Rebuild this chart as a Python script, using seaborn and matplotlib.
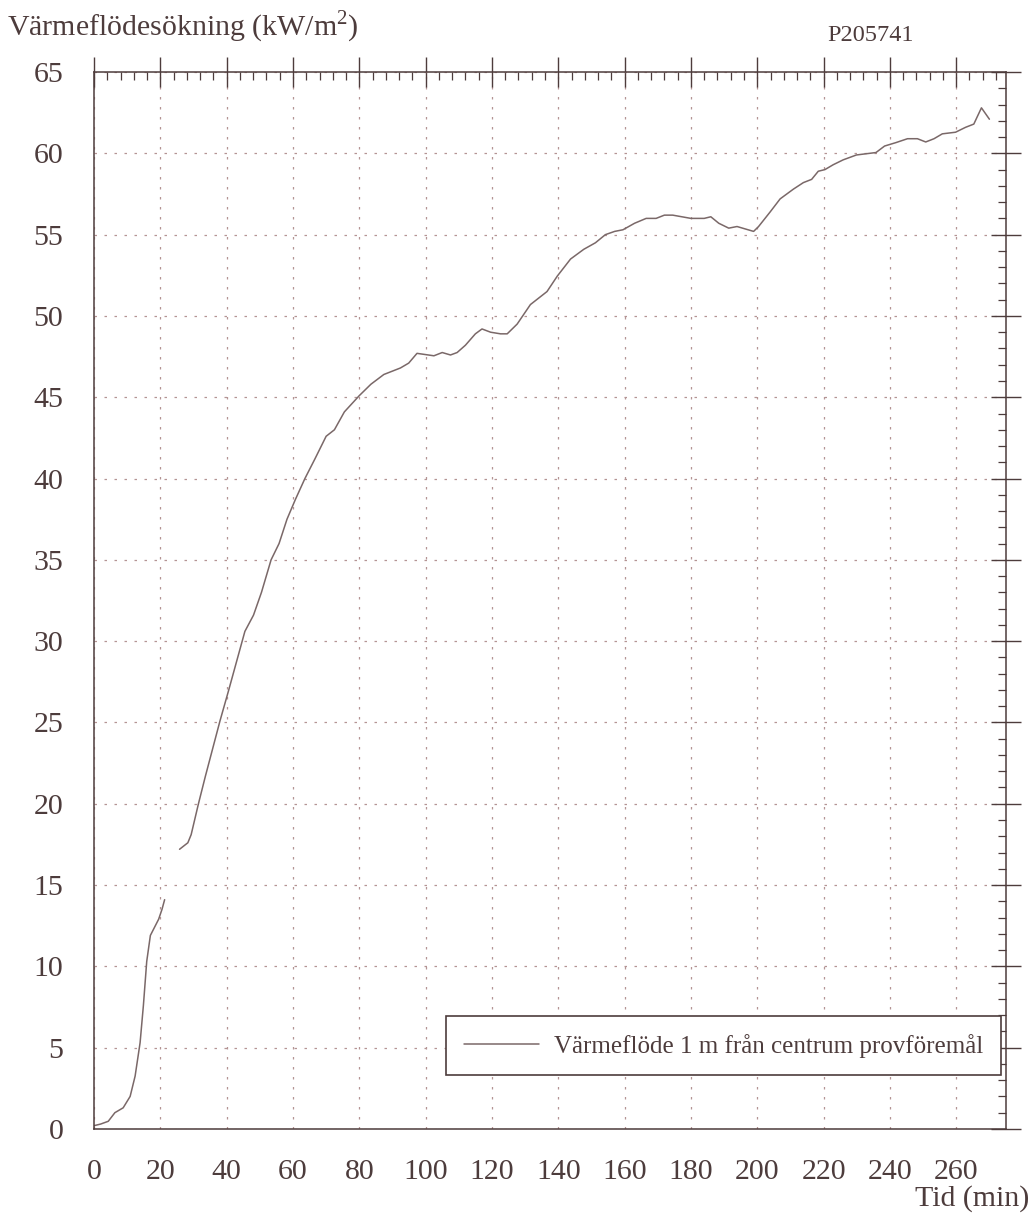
import numpy as np
import pandas as pd
import matplotlib
matplotlib.use("Agg")
import matplotlib.pyplot as plt
from matplotlib.ticker import MultipleLocator
import seaborn as sns

# ---- data ----
time_early = [0, 2, 4.3, 6.3, 8.8, 10.9, 12.4, 13.9, 14.9, 15.9, 17.0, 18.5, 19.5, 20.5, 21.3]
flux_early = [0.2, 0.3, 0.47, 1.0, 1.3, 2.0, 3.25, 5.3, 7.6, 10.3, 11.9, 12.5, 12.9, 13.5, 14.1]

time_main = [25.8, 28.3, 29.3, 31.5, 33.6, 38.0, 40.5, 45.5, 48.1, 50.5, 53.4, 55.8, 58.2,
             60.7, 63.6, 66.6, 70.0, 72.5, 75.5, 80.0, 83.5, 87.4, 92.4, 94.9, 97.4,
             102.5, 105.0, 107.5, 109.5, 112.0, 115.0, 117.0, 119.6, 122.6, 124.6, 127.6,
             131.6, 136.6, 139.7, 143.7, 147.7, 151.2, 154.2, 157.0, 159.5, 163.0, 166.5,
             169.5, 172.0, 174.5, 180.0, 184.0, 186.0, 188.4, 191.4, 193.9, 198.9, 200.4,
             203.9, 206.9, 210.9, 213.9, 216.4, 218.4, 220.4, 222.9, 225.9, 229.9, 235.8,
             238.4, 241.8, 245.3, 248.3, 250.8, 253.3, 255.8, 259.8, 262.8, 265.3, 267.6, 270.0]
flux_main = [17.2, 17.6, 18.1, 20.0, 21.7, 25.1, 26.9, 30.6, 31.6, 33.0, 35.0, 36.0, 37.5,
             38.7, 40.0, 41.2, 42.6, 43.0, 44.1, 45.1, 45.8, 46.4, 46.8, 47.1, 47.7,
             47.55, 47.75, 47.6, 47.75, 48.2, 48.9, 49.2, 49.0, 48.9, 48.9, 49.5,
             50.7, 51.5, 52.45, 53.5, 54.1, 54.5, 55.0, 55.2, 55.3, 55.7, 56.0,
             56.0, 56.2, 56.2, 56.0, 56.0, 56.1, 55.7, 55.4, 55.5, 55.2, 55.5,
             56.4, 57.2, 57.8, 58.2, 58.4, 58.9, 59.0, 59.3, 59.6, 59.9, 60.05,
             60.45, 60.66, 60.9, 60.9, 60.7, 60.9, 61.2, 61.3, 61.6, 61.8, 62.8, 62.1]

x_ticks = list(range(0, 261, 20))
y_ticks = list(range(0, 66, 5))

y_title = "Värmeflödesökning (kW/m$^2$)"
x_title = "Tid (min)"
code_label = "P205741"
series_label = "Värmeflöde 1 m från centrum provföremål"

# ---- style ----
sns.set_style("white")
plt.rcParams["font.family"] = ["Liberation Serif", "DejaVu Serif"]
plt.rcParams["mathtext.fontset"] = "custom"
plt.rcParams["mathtext.rm"] = "Liberation Serif"

ink = "#4d3c3c"
line_col = "#7a6868"
grid_col = "#b49494"

fig = plt.figure(figsize=(10.34, 12.13), dpi=100)
ax = fig.add_axes([0.0909, 0.0693, 0.882, 0.8713])

df1 = pd.DataFrame({"t": time_early, "q": flux_early})
df2 = pd.DataFrame({"t": time_main, "q": flux_main})
sns.lineplot(data=df1, x="t", y="q", ax=ax, color=line_col, lw=1.1,
             estimator=None, sort=False, label=series_label)
sns.lineplot(data=df2, x="t", y="q", ax=ax, color=line_col, lw=1.1,
             estimator=None, sort=False)

ax.set_xlim(0, 275)
ax.set_ylim(0, 65)
ax.set_xticks(x_ticks)
ax.set_yticks(y_ticks)
ax.xaxis.set_minor_locator(MultipleLocator(4))
ax.yaxis.set_minor_locator(MultipleLocator(1))
ax.set_xlabel("")
ax.set_ylabel("")

for s in ax.spines.values():
    s.set_visible(True)
    s.set_color(ink)
    s.set_linewidth(1.1)

ax.tick_params(which="major", direction="inout", length=22, width=1.0, color=ink,
               labelsize=21.5, labelcolor=ink, top=True, right=True)
ax.tick_params(which="minor", direction="in", length=6, width=0.9, color=ink,
               top=True, right=True)
ax.tick_params(axis="y", which="major", pad=11)
ax.tick_params(axis="x", which="major", pad=11)

ax.grid(True, which="major", color=grid_col, linestyle=(0, (2, 6)), linewidth=0.9)

leg = ax.legend(loc="lower right", bbox_to_anchor=(0.994, 0.051), borderaxespad=0,
                fancybox=False, frameon=True, fontsize=18, handlelength=3.0,
                handletextpad=0.6, borderpad=0.7, labelcolor=ink)
leg.get_frame().set_edgecolor(ink)
leg.get_frame().set_linewidth(1.2)
leg.get_frame().set_alpha(1)

fig.text(0.007, 0.970, y_title, fontsize=21.5, color=ink, ha="left", va="baseline")
fig.text(0.842, 0.966, code_label, fontsize=17.5, color=ink, ha="center", va="baseline")
fig.text(0.996, 0.001, x_title, fontsize=21.5, color=ink, ha="right", va="bottom")

fig.savefig("out.png", dpi=100, facecolor="white")
